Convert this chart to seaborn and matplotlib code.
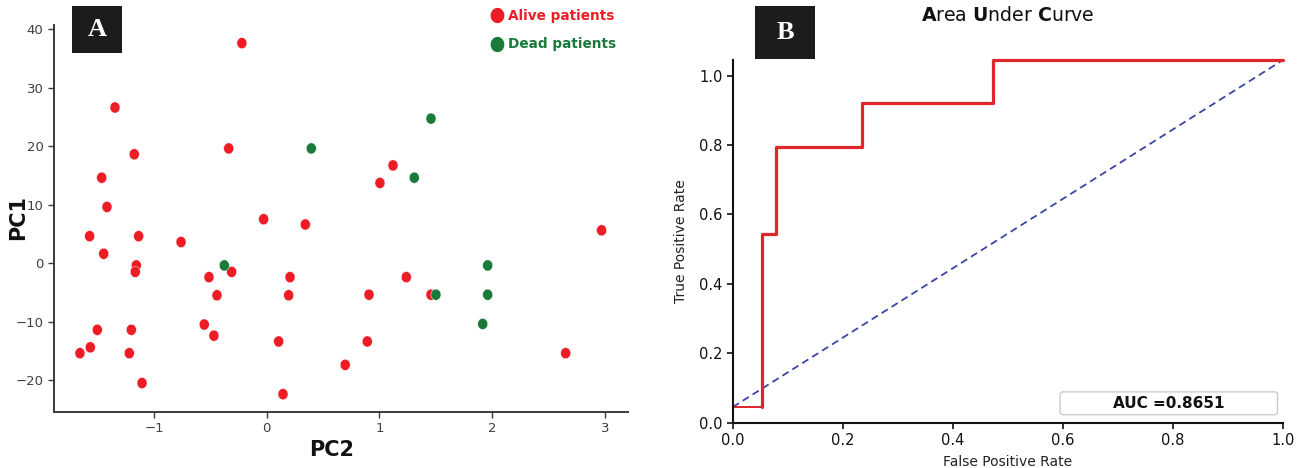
import numpy as np
import pandas as pd
import matplotlib
matplotlib.use("Agg")
import matplotlib.pyplot as plt
import seaborn as sns
from matplotlib.path import Path
from matplotlib.lines import Line2D
from matplotlib.patches import Rectangle, FancyBboxPatch

# ---------------- data ----------------
alive_pc2 = [-0.22, -1.346, -1.175, -0.337, -1.464, -1.417, -0.027, 0.343, -1.571, -1.136,
             -0.760, -1.446, -1.157, -1.166, -0.311, -0.512, 0.207, -0.441, 0.195, -0.554,
             -1.503, -1.201, -0.468, -1.565, -1.657, -1.219, -1.106, 0.145, 0.106, 1.121,
             1.005, 1.239, 0.908, 1.458, 0.893, 0.697, 2.653, 2.972]
alive_pc1 = [37.6, 26.6, 18.6, 19.6, 14.6, 9.6, 7.5, 6.6, 4.6, 4.6,
             3.6, 1.6, -0.4, -1.5, -1.5, -2.4, -2.4, -5.5, -5.5, -10.5,
             -11.4, -11.4, -12.4, -14.4, -15.4, -15.4, -20.5, -22.4, -13.4, 16.7,
             13.7, -2.4, -5.4, -5.4, -13.4, -17.4, -15.4, 5.6]
dead_pc2 = [0.396, 1.458, 1.310, -0.376, 1.961, 1.502, 1.961, 1.917]
dead_pc1 = [19.6, 24.7, 14.6, -0.4, -0.4, -5.4, -5.4, -10.4]
groups = ["Alive patients", "Dead patients"]
group_colors = ["#EE1D25", "#197A3A"]

roc_fpr = [0.0, 0.053, 0.053, 0.079, 0.079, 0.235, 0.235, 0.473, 0.473, 1.0]
roc_tpr = [0.045, 0.045, 0.545, 0.545, 0.795, 0.795, 0.920, 0.920, 1.045, 1.045]
chance_fpr = [0.0, 1.0]
chance_tpr = [0.045, 1.045]
auc_value = 0.8651

xticks_a = [-1, 0, 1, 2, 3]
yticks_a = [-20, -10, 0, 10, 20, 30, 40]
ticks_b = [0.0, 0.2, 0.4, 0.6, 0.8, 1.0]

# ---------------- build frames ----------------
pca_df = pd.DataFrame({
    "PC2": alive_pc2 + dead_pc2,
    "PC1": alive_pc1 + dead_pc1,
    "Group": [groups[0]] * len(alive_pc2) + [groups[1]] * len(dead_pc2),
})
roc_df = pd.DataFrame({"fpr": roc_fpr, "tpr": roc_tpr})
chance_df = pd.DataFrame({"fpr": chance_fpr, "tpr": chance_tpr})

sns.set_style("ticks")
plt.rcParams["font.family"] = ["DejaVu Sans"]

fig = plt.figure(figsize=(13.08, 4.68), dpi=100)
axA = fig.add_axes([0.0413, 0.1203, 0.4388, 0.8263])
axB = fig.add_axes([0.5602, 0.0968, 0.4207, 0.775])

# ellipse marker (slightly taller than wide)
t = np.linspace(0, 2 * np.pi, 60)
ell = Path(np.column_stack([0.45 * np.cos(t), 0.5 * np.sin(t)]), closed=True)

# ---------------- Panel A ----------------
sns.scatterplot(data=pca_df, x="PC2", y="PC1", hue="Group",
                palette=dict(zip(groups, group_colors)), marker=ell, s=64,
                edgecolor="white", linewidth=0.3, legend=False, ax=axA)
axA.set_xlim(-1.887, 3.206)
axA.set_ylim(-25.4, 40.7)
axA.set_xticks(xticks_a)
axA.set_yticks(yticks_a)
axA.set_xticklabels(["\u22121", "0", "1", "2", "3"])
axA.set_yticklabels([("\u2212" + str(-v)) if v < 0 else str(v) for v in yticks_a])
for sp in ["top", "right"]:
    axA.spines[sp].set_visible(False)
for sp in ["left", "bottom"]:
    axA.spines[sp].set_color("#3a3a3a")
    axA.spines[sp].set_linewidth(1.4)
axA.tick_params(colors="#3a3a3a", labelsize=9.5, length=4, width=1.0, labelcolor="#404040")
axA.set_xlabel("")
axA.set_ylabel("")
fig.text(332 / 1308, 1 - 450 / 468, "PC2", fontsize=15, fontweight="bold",
         ha="center", va="center", color="#111111")
fig.text(18 / 1308, 1 - 218 / 468, "PC1", fontsize=15, fontweight="bold",
         ha="center", va="center", rotation=90, color="#111111")

handles = [Line2D([0], [0], marker=ell, linestyle="none", markersize=11,
                  markerfacecolor=c, markeredgecolor="none") for c in group_colors]
leg = fig.legend(handles, groups, loc="upper left",
                 bbox_to_anchor=(492 / 1308, 1 - 9 / 468),
                 frameon=False, handlelength=0.8, handletextpad=0.4,
                 labelspacing=1.05, borderaxespad=0, borderpad=0,
                 prop={"weight": "bold", "size": 9.8},
                 labelcolor=group_colors)

# ---------------- Panel B ----------------
sns.lineplot(data=chance_df, x="fpr", y="tpr", ax=axB, color="#3B46A0",
             lw=1.3, linestyle=(0, (4, 2.5)), sort=False, estimator=None)
sns.lineplot(data=roc_df.iloc[:2], x="fpr", y="tpr", ax=axB, color="#E0252B",
             lw=1.4, sort=False, estimator=None)
sns.lineplot(data=roc_df.iloc[1:], x="fpr", y="tpr", ax=axB, color="#E0252B",
             lw=2.3, sort=False, estimator=None, clip_on=False)
axB.set_xlim(0, 1)
axB.set_ylim(0, 1.045)
axB.set_xticks(ticks_b)
axB.set_yticks(ticks_b)
axB.set_xticklabels([f"{v:.1f}" for v in ticks_b])
axB.set_yticklabels([f"{v:.1f}" for v in ticks_b])
for sp in ["top", "right"]:
    axB.spines[sp].set_visible(False)
for sp in ["left", "bottom"]:
    axB.spines[sp].set_color("#111111")
    axB.spines[sp].set_linewidth(1.5)
axB.tick_params(colors="#111111", labelsize=10.5, length=4, width=1.2)
axB.set_xlabel("False Positive Rate", fontsize=10, color="#222222", labelpad=5)
axB.set_ylabel("True Positive Rate", fontsize=10, color="#222222", labelpad=8)
axB.set_title(r"$\mathbf{A}$rea $\mathbf{U}$nder $\mathbf{C}$urve",
              fontsize=13.6, pad=28, color="#111111")

# AUC box
box = FancyBboxPatch((0.595, 0.022), 0.395, 0.063, transform=axB.transAxes,
                     boxstyle="round,pad=0,rounding_size=0.006",
                     facecolor="white", edgecolor="#cccccc", lw=1.0, zorder=5)
axB.add_patch(box)
axB.text(0.7925, 0.0535, f"AUC ={auc_value}", transform=axB.transAxes,
         ha="center", va="center", fontsize=11, fontweight="bold",
         color="#111111", zorder=6)

# panel letters
for (x0, x1, y0, y1, letter) in [(72, 122, 6, 53, "A"), (755, 815, 6, 59, "B")]:
    fig.patches.append(Rectangle((x0 / 1308, 1 - y1 / 468), (x1 - x0) / 1308,
                                 (y1 - y0) / 468, transform=fig.transFigure,
                                 facecolor="#1c1c1c", edgecolor="none", zorder=10))
    fig.text((x0 + x1) / 2 / 1308, 1 - (y0 + y1) / 2 / 468, letter,
             fontsize=19, fontweight="bold", family=["Liberation Serif", "DejaVu Serif"],
             ha="center", va="center", color="white", zorder=11)

fig.savefig("out.png", dpi=100)
